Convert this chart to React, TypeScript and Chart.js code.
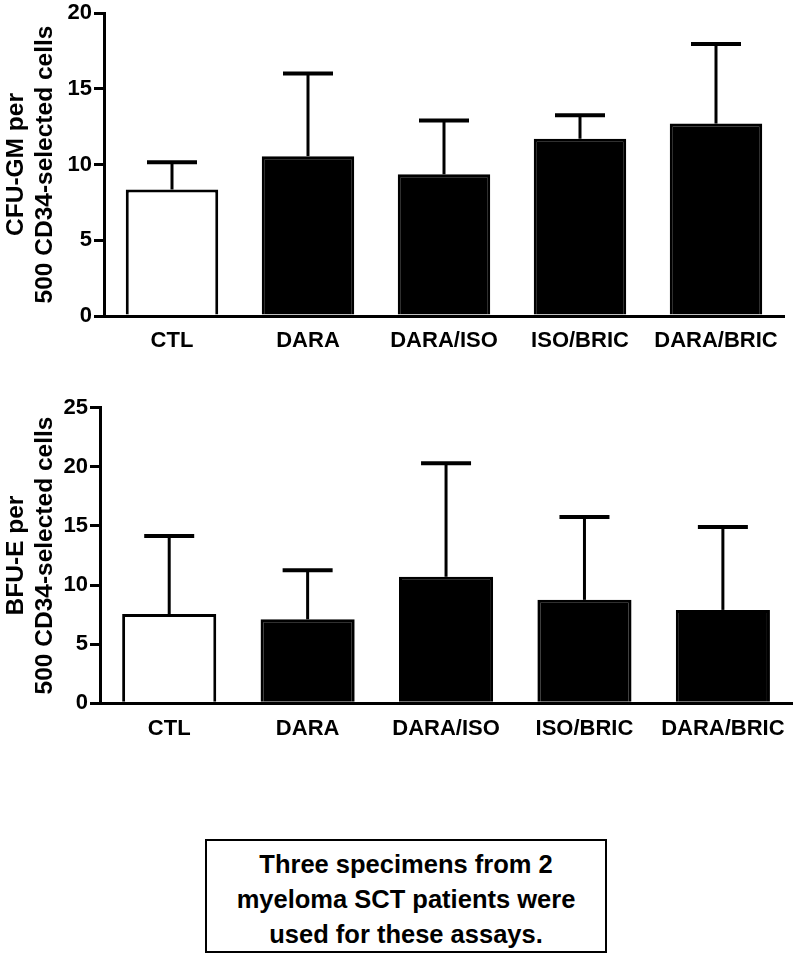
import { useEffect, useRef } from "react";
import { Chart, registerables } from "chart.js";

Chart.register(...registerables);

const categories = ["CTL", "DARA", "DARA/ISO", "ISO/BRIC", "DARA/BRIC"];

const cfuMeans = [8.35, 10.55, 9.35, 11.7, 12.7];
const cfuErrors = [1.8, 5.45, 3.55, 1.55, 5.25];
const cfuTitle = ["CFU-GM per", "500 CD34-selected cells"];
const cfuMax = 20;

const bfuMeans = [7.55, 7.1, 10.7, 8.75, 7.9];
const bfuErrors = [6.6, 4.15, 9.6, 7.0, 7.0];
const bfuTitle = ["BFU-E per", "500 CD34-selected cells"];
const bfuMax = 25;

const tickStep = 5;
const barFills = ["#ffffff", "#000000", "#000000", "#000000", "#000000"];

const noteLines = [
  "Three specimens from 2",
  "myeloma SCT patients were",
  "used for these assays.",
];

const FONT = "'Liberation Sans', Arial, Helvetica, sans-serif";

const errorBarPlugin = {
  id: "errorBars",
  afterDatasetsDraw(chart: any) {
    const ctx = chart.ctx;
    const yScale = chart.scales.y;
    chart.data.datasets.forEach((ds: any, di: number) => {
      const meta = chart.getDatasetMeta(di);
      const errs: number[] = ds.errors || [];
      meta.data.forEach((bar: any, i: number) => {
        const v = ds.data[i];
        const e = errs[i];
        if (e == null) return;
        const yTop = yScale.getPixelForValue(v + e);
        const yBar = yScale.getPixelForValue(v);
        ctx.save();
        ctx.strokeStyle = "#000";
        ctx.lineCap = "butt";
        ctx.lineWidth = 3;
        ctx.beginPath();
        ctx.moveTo(bar.x, yBar);
        ctx.lineTo(bar.x, yTop);
        ctx.stroke();
        ctx.lineWidth = 4;
        ctx.beginPath();
        ctx.moveTo(bar.x - 25, yTop);
        ctx.lineTo(bar.x + 25, yTop);
        ctx.stroke();
        ctx.restore();
      });
    });
  },
};

function makeConfig(
  means: number[],
  errors: number[],
  max: number,
  title: string[],
  padding: any,
  yWidth: number,
  xHeight: number
): any {
  return {
    type: "bar",
    data: {
      labels: categories,
      datasets: [
        {
          data: means,
          errors: errors,
          backgroundColor: barFills,
          borderColor: "#000000",
          borderWidth: 3,
          borderSkipped: "start",
          barPercentage: 0.68,
          categoryPercentage: 1.0,
        },
      ],
    },
    options: {
      responsive: false,
      animation: false,
      devicePixelRatio: 1,
      layout: { padding },
      plugins: {
        legend: { display: false },
        tooltip: { enabled: false },
        title: { display: false },
      },
      scales: {
        x: {
          grid: { display: false, drawTicks: false },
          border: { display: true, color: "#000", width: 3 },
          ticks: {
            color: "#000",
            padding: 12,
            maxRotation: 0,
            autoSkip: false,
            font: { family: FONT, size: 22, weight: "bold" },
          },
          afterFit: (s: any) => {
            s.height = xHeight;
          },
        },
        y: {
          min: 0,
          max: max,
          grid: {
            display: true,
            drawOnChartArea: false,
            drawTicks: true,
            tickLength: 10,
            tickWidth: 3,
            lineWidth: 3,
            tickColor: "#000",
            color: "#000",
          },
          border: { display: true, color: "#000", width: 3 },
          ticks: {
            stepSize: tickStep,
            color: "#000",
            padding: 2,
            font: { family: FONT, size: 22, weight: "bold", lineHeight: 1 },
          },
          title: {
            display: true,
            text: title,
            color: "#000",
            padding: { top: 2, bottom: 0 },
            font: { family: FONT, size: 24.5, weight: "bold", lineHeight: 29 / 24.5 },
          },
          afterFit: (s: any) => {
            s.width = yWidth;
          },
        },
      },
    },
    plugins: [errorBarPlugin],
  };
}

export default function App() {
  const ref1 = useRef<HTMLCanvasElement>(null);
  const ref2 = useRef<HTMLCanvasElement>(null);

  useEffect(() => {
    const c1 = new Chart(
      ref1.current as HTMLCanvasElement,
      makeConfig(cfuMeans, cfuErrors, cfuMax, cfuTitle, { top: 11, right: 13, left: 0, bottom: 0 }, 104, 44)
    );
    const c2 = new Chart(
      ref2.current as HTMLCanvasElement,
      makeConfig(bfuMeans, bfuErrors, bfuMax, bfuTitle, { top: 37.7, right: 4, left: 0, bottom: 0 }, 100, 56.7)
    );
    return () => {
      c1.destroy();
      c2.destroy();
    };
  }, []);

  return (
    <div
      style={{
        position: "absolute",
        left: 0,
        top: 0,
        width: 797,
        height: 954,
        background: "#fff",
        overflow: "hidden",
      }}
    >
      <canvas
        ref={ref1}
        width={797}
        height={360}
        style={{ position: "absolute", left: 0, top: 0, width: 797, height: 360 }}
      />
      <canvas
        ref={ref2}
        width={797}
        height={390}
        style={{ position: "absolute", left: 0, top: 370, width: 797, height: 390 }}
      />
      <div
        style={{
          position: "absolute",
          left: 205,
          top: 839,
          width: 402,
          height: 114,
          boxSizing: "border-box",
          border: "2px solid #000",
          fontFamily: FONT,
          fontWeight: "bold",
          fontSize: 25.5,
          lineHeight: "35px",
          textAlign: "center",
          paddingTop: 6,
          color: "#000",
          whiteSpace: "nowrap",
        }}
      >
        {noteLines.map((l, i) => (
          <div key={i}>{l}</div>
        ))}
      </div>
    </div>
  );
}
